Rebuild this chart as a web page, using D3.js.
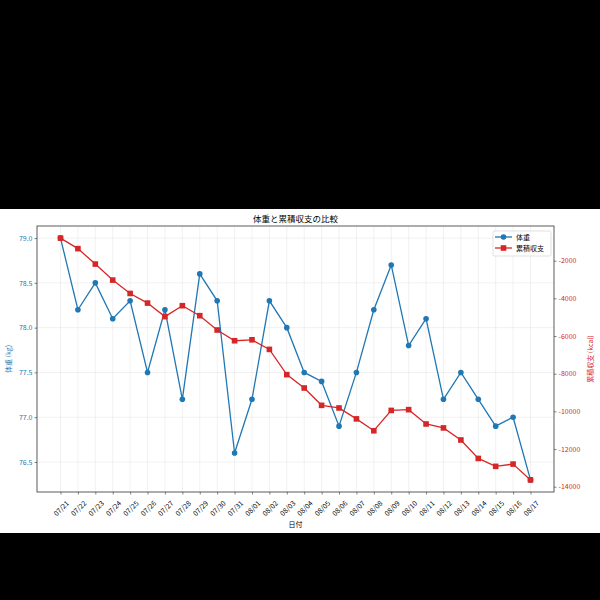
<!DOCTYPE html>
<html>
<head>
<meta charset="utf-8">
<script src="https://cdn.jsdelivr.net/npm/d3@7"></script>
<style>
  body { margin: 0; background: #000; }
  svg { display: block; }
  text { font-family: "Noto Sans CJK JP", "DejaVu Sans", sans-serif; }
</style>
</head>
<body>
<svg width="600" height="600"></svg>
<script>
// data
const dates = ["07/21", "07/22", "07/23", "07/24", "07/25", "07/26", "07/27", "07/28", "07/29", "07/30",
  "07/31", "08/01", "08/02", "08/03", "08/04", "08/05", "08/06", "08/07", "08/08", "08/09",
  "08/10", "08/11", "08/12", "08/13", "08/14", "08/15", "08/16", "08/17"];
const weight = [79.0, 78.2, 78.5, 78.1, 78.3, 77.5, 78.2, 77.2, 78.6, 78.3,
  76.6, 77.2, 78.3, 78.0, 77.5, 77.4, 76.9, 77.5, 78.2, 78.7,
  77.8, 78.1, 77.2, 77.5, 77.2, 76.9, 77.0, 76.3];
const balance = [-800, -1360, -2180, -3030, -3740, -4250, -4970, -4390, -4920, -5680,
  -6250, -6200, -6710, -8050, -8760, -9680, -9820, -10400, -11030, -9950,
  -9910, -10670, -10880, -11520, -12500, -12920, -12800, -13640];
const weightTicks = [76.5, 77.0, 77.5, 78.0, 78.5, 79.0];
const balanceTicks = [-14000, -12000, -10000, -8000, -6000, -4000, -2000];

const blue = "#1f77b4", red = "#d62728";
const pLeft = 37, pRight = 554, pTop = 226, pBottom = 492;

let svg = d3.select("svg");
svg.append("rect").attr("x", 0).attr("y", 209).attr("width", 600).attr("height", 324).attr("fill", "#fff");

// matplotlib style 5% margins
function padded(vals) {
  let lo = d3.min(vals), hi = d3.max(vals), m = (hi - lo) * 0.05;
  return [lo - m, hi + m];
}

let xScale = d3.scaleLinear().domain([-1.35, dates.length - 1 + 1.35]).range([pLeft, pRight]);
let yLeft = d3.scaleLinear().domain(padded(weight)).range([pBottom, pTop]);
let yRight = d3.scaleLinear().domain(padded(balance)).range([pBottom, pTop]);

// grid
let grid = svg.append("g").attr("stroke", "#b0b0b0").attr("stroke-opacity", 0.3).attr("stroke-width", 0.6);
dates.forEach((d, i) => {
  grid.append("line").attr("x1", xScale(i)).attr("x2", xScale(i)).attr("y1", pTop).attr("y2", pBottom);
});
weightTicks.forEach(v => {
  grid.append("line").attr("x1", pLeft).attr("x2", pRight).attr("y1", yLeft(v)).attr("y2", yLeft(v));
});

// left axis
let axL = svg.append("g").attr("transform", `translate(${pLeft},0)`)
  .call(d3.axisLeft(yLeft).tickValues(weightTicks).tickFormat(d3.format(".1f")).tickSize(2.5).tickPadding(2));
axL.select(".domain").remove();
axL.selectAll(".tick line").attr("stroke", "#333").attr("stroke-width", 0.6);
axL.selectAll(".tick text").attr("fill", blue).attr("font-size", 7);

// right axis
let axR = svg.append("g").attr("transform", `translate(${pRight},0)`)
  .call(d3.axisRight(yRight).tickValues(balanceTicks).tickFormat(d => d < 0 ? "-" + Math.abs(d) : d).tickSize(2.5).tickPadding(2));
axR.select(".domain").remove();
axR.selectAll(".tick line").attr("stroke", "#333").attr("stroke-width", 0.6);
axR.selectAll(".tick text").attr("fill", red).attr("font-size", 7);

// bottom axis
let axB = svg.append("g").attr("transform", `translate(0,${pBottom})`)
  .call(d3.axisBottom(xScale).tickValues(d3.range(dates.length)).tickFormat(i => dates[i]).tickSize(2.5));
axB.select(".domain").remove();
axB.selectAll(".tick line").attr("stroke", "#333").attr("stroke-width", 0.6);
axB.selectAll(".tick text")
  .attr("font-size", 7).attr("fill", "#000")
  .attr("y", 0).attr("dy", 0)
  .attr("text-anchor", "middle").attr("dominant-baseline", "central")
  .attr("transform", "translate(0,16) rotate(-45)");

// frame
svg.append("rect").attr("x", pLeft).attr("y", pTop).attr("width", pRight - pLeft).attr("height", pBottom - pTop)
  .attr("fill", "none").attr("stroke", "#333").attr("stroke-width", 0.8);

// weight line
svg.append("path").datum(weight)
  .attr("fill", "none").attr("stroke", blue).attr("stroke-width", 1.3)
  .attr("d", d3.line().x((d, i) => xScale(i)).y(d => yLeft(d)));
svg.append("g").selectAll("circle").data(weight).enter().append("circle")
  .attr("cx", (d, i) => xScale(i)).attr("cy", d => yLeft(d)).attr("r", 2.8).attr("fill", blue);

// balance line
svg.append("path").datum(balance)
  .attr("fill", "none").attr("stroke", red).attr("stroke-width", 1.3)
  .attr("d", d3.line().x((d, i) => xScale(i)).y(d => yRight(d)));
svg.append("g").selectAll("rect").data(balance).enter().append("rect")
  .attr("x", (d, i) => xScale(i) - 2.8).attr("y", d => yRight(d) - 2.8)
  .attr("width", 5.6).attr("height", 5.6).attr("fill", red);

// texts
svg.append("text").attr("x", (pLeft + pRight) / 2).attr("y", 218).attr("text-anchor", "middle")
  .attr("dominant-baseline", "central").attr("font-size", 8.5).attr("fill", "#000").text("体重と累積収支の比較");
svg.append("text").attr("x", (pLeft + pRight) / 2).attr("y", 524).attr("text-anchor", "middle")
  .attr("dominant-baseline", "central").attr("font-size", 7).attr("fill", "#000").text("日付");
svg.append("text").attr("text-anchor", "middle").attr("dominant-baseline", "central")
  .attr("transform", `translate(8,${(pTop + pBottom) / 2}) rotate(-90)`)
  .attr("font-size", 7).attr("fill", blue).text("体重 (kg)");
svg.append("text").attr("text-anchor", "middle").attr("dominant-baseline", "central")
  .attr("transform", `translate(590,${(pTop + pBottom) / 2}) rotate(-90)`)
  .attr("font-size", 7).attr("fill", red).text("累積収支 (kcal)");

// legend
let legend = svg.append("g");
legend.append("rect").attr("x", 493).attr("y", 231).attr("width", 58).attr("height", 25).attr("rx", 1.5)
  .attr("fill", "#fff").attr("fill-opacity", 0.8).attr("stroke", "#ccc").attr("stroke-width", 0.6);
[["体重", blue, "circle"], ["累積収支", red, "square"]].forEach((s, i) => {
  let yy = 237 + i * 11;
  legend.append("line").attr("x1", 495).attr("x2", 512).attr("y1", yy).attr("y2", yy)
    .attr("stroke", s[1]).attr("stroke-width", 1.3);
  if (s[2] === "circle") {
    legend.append("circle").attr("cx", 503.5).attr("cy", yy).attr("r", 2.8).attr("fill", s[1]);
  } else {
    legend.append("rect").attr("x", 500.7).attr("y", yy - 2.8).attr("width", 5.6).attr("height", 5.6).attr("fill", s[1]);
  }
  legend.append("text").attr("x", 516).attr("y", yy).attr("dominant-baseline", "central")
    .attr("font-size", 7).attr("fill", "#000").text(s[0]);
});
</script>
</body>
</html>
